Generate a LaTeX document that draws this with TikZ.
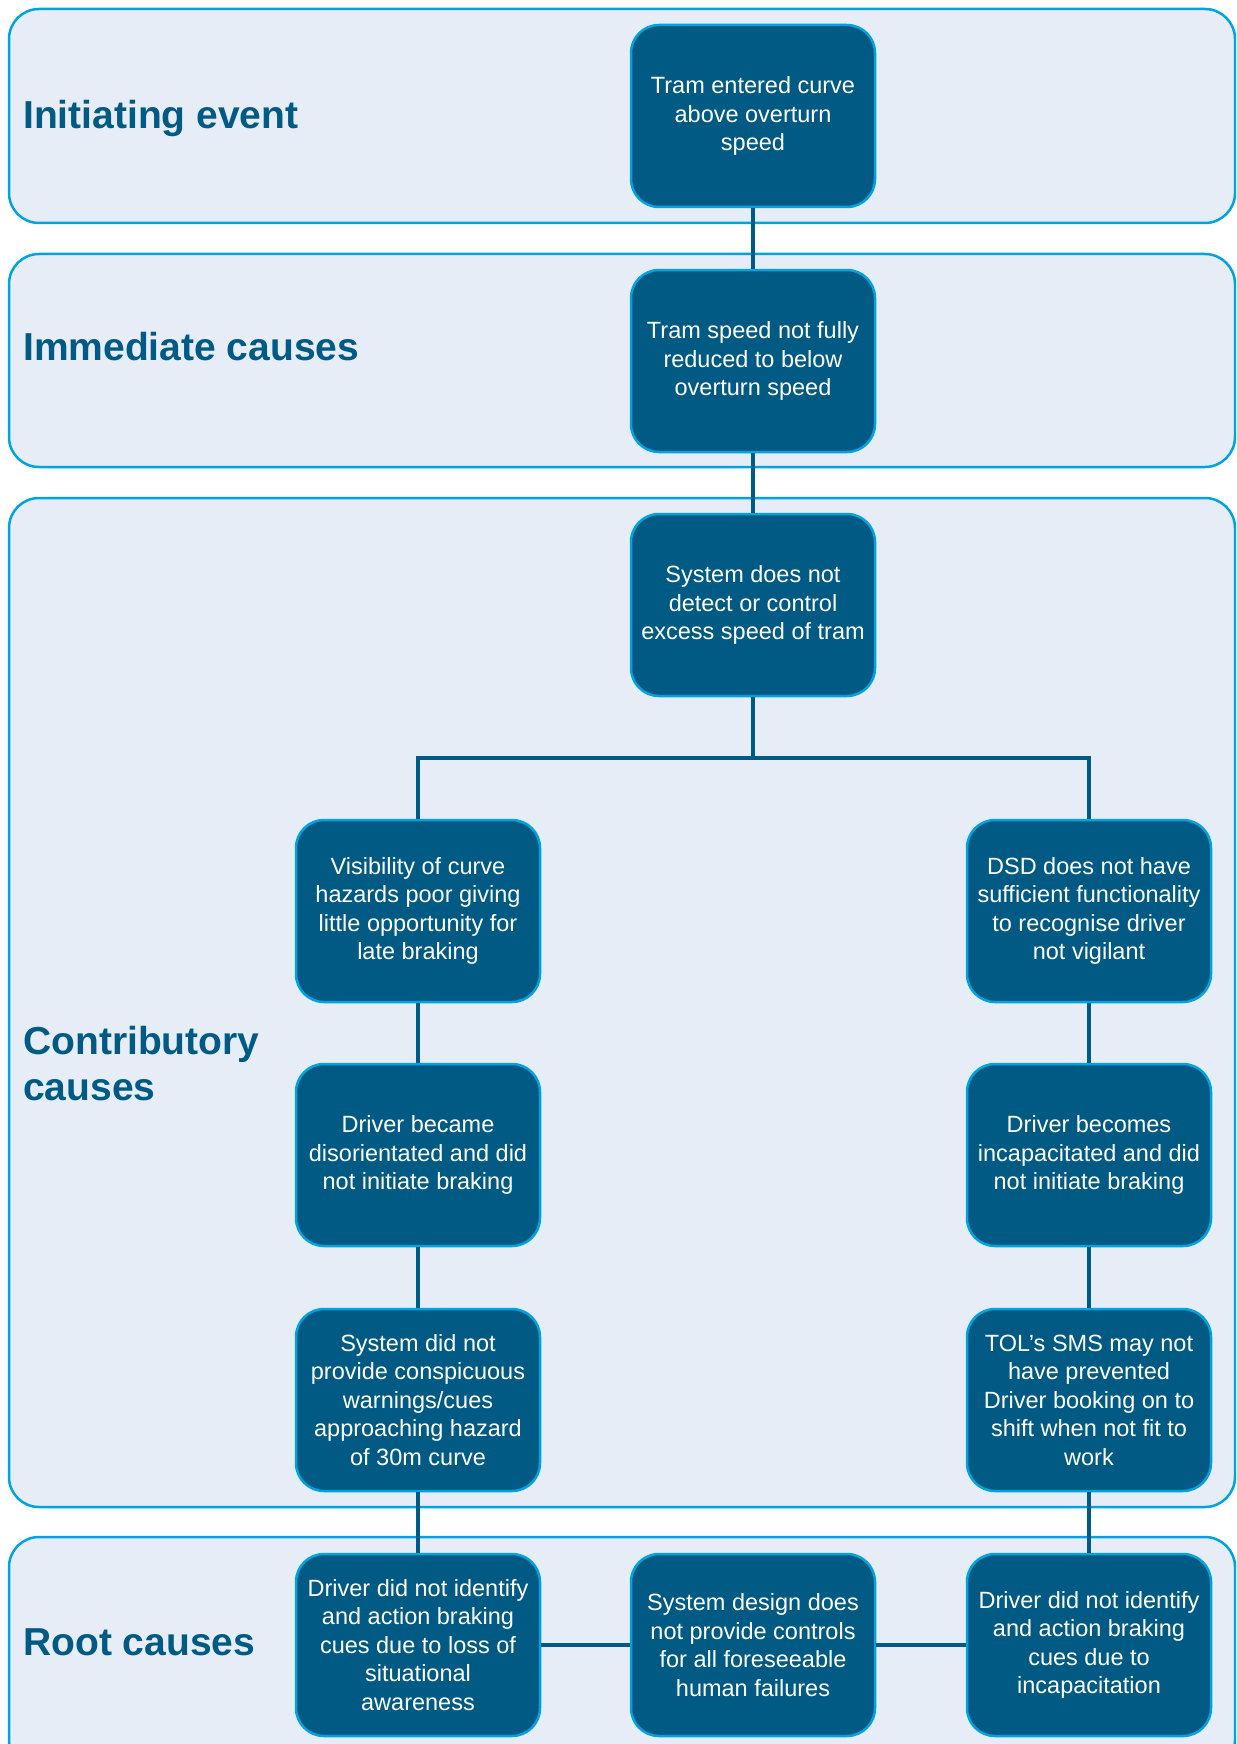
\documentclass[tikz,border=0pt]{standalone}
\usepackage{fontspec}
\setmainfont{Liberation Sans}
\usetikzlibrary{positioning}
\definecolor{tramblue}{HTML}{005A84}
\definecolor{edgecyan}{HTML}{00A3E0}
\definecolor{bandfill}{HTML}{E6EDF7}
\tikzset{
    band/.style={draw=edgecyan, fill=bandfill, line width=2.5pt, rounded corners=30pt},
    cause/.style={draw=edgecyan, fill=tramblue, line width=2.5pt, rounded corners=28pt,
        minimum width=244pt, minimum height=182pt, align=center, text=white,
        font=\fontsize{23.5}{28.5}\selectfont},
    bandlabel/.style={text=tramblue, align=left, inner sep=0pt,
        font=\fontsize{39}{46}\selectfont\bfseries},
    link/.style={draw=tramblue, line width=4pt}
}

\begin{document}
\begin{tikzpicture}[x=1pt,y=-1pt]
	\useasboundingbox (0,0) rectangle (1236,1744);
	\clip (0,0) rectangle (1236,1744);
	% bands
	\draw[band] (9,9) rectangle (1235,223);
	\draw[band] (9,254) rectangle (1235,467);
	\draw[band] (9,498) rectangle (1235,1507);
	\draw[band] (9,1537) rectangle (1235,1770);
	\node[bandlabel, anchor=base west] (lbInit) at (23,129) {Initiating event};
	\node[bandlabel, anchor=base west] (lbImm) at (23,360) {Immediate causes};
	\node[bandlabel, anchor=west] (lbContr) at (23,1064) {Contributory\\causes};
	\node[bandlabel, anchor=base west] (lbRoot) at (23,1655) {Root causes};
	% middle column
	\node[cause] (init) at (753,116) {Tram entered curve\\above overturn\\speed};
	\node[cause] (immediate) at (753,361) {Tram speed not fully\\reduced to below\\overturn speed};
	\node[cause] (detect) at (753,605) {System does not\\detect or control\\excess speed of tram};
	% left column
	\node[cause] (visible) at (418,911) {Visibility of curve\\hazards poor giving\\little opportunity for\\late braking};
	\node[cause] (disorient) at (418,1155) {Driver became\\disorientated and did\\not initiate braking};
	\node[cause] (warnings) at (418,1400) {System did not\\provide conspicuous\\warnings/cues\\approaching hazard\\of 30m curve};
	% right column
	\node[cause] (dsd) at (1089,911) {DSD does not have\\sufficient functionality\\to recognise driver\\not vigilant};
	\node[cause] (incap) at (1089,1155) {Driver becomes\\incapacitated and did\\not initiate braking};
	\node[cause] (sms) at (1089,1400) {TOL’s SMS may not\\have prevented\\Driver booking on to\\shift when not fit to\\work};
	% root causes
	\node[cause] (rootAware) at (418,1645) {Driver did not identify\\and action braking\\cues due to loss of\\situational\\awareness};
	\node[cause] (rootDesign) at (753,1645) {System design does\\not provide controls\\for all foreseeable\\human failures};
	\node[cause] (rootIncap) at (1089,1645) {Driver did not identify\\and action braking\\cues due to\\incapacitation};
	% connectors
	\coordinate (fork) at (753,758);
	\draw[link] (init) -- (immediate);
	\draw[link] (immediate) -- (detect);
	\draw[link] (detect) -- (fork);
	\draw[link] (fork) -| (visible);
	\draw[link] (fork) -| (dsd);
	\draw[link] (visible) -- (disorient);
	\draw[link] (disorient) -- (warnings);
	\draw[link] (warnings) -- (rootAware);
	\draw[link] (dsd) -- (incap);
	\draw[link] (incap) -- (sms);
	\draw[link] (sms) -- (rootIncap);
	\draw[link] (rootAware) -- (rootDesign);
	\draw[link] (rootDesign) -- (rootIncap);
\end{tikzpicture}
\end{document}
